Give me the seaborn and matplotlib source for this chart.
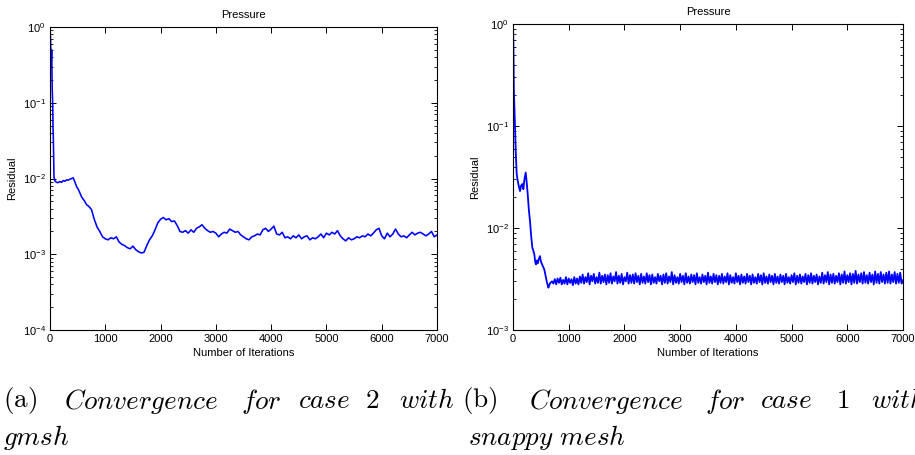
import numpy as np
import pandas as pd
import matplotlib
matplotlib.use("Agg")
import matplotlib.pyplot as plt
import seaborn as sns
from matplotlib.ticker import LogLocator, FixedLocator, NullFormatter

# ---------------------------------------------------------------
# Pressure residual histories (values in units of 1e-3)
# ---------------------------------------------------------------

# (a) case 2, gmsh mesh: start-up transient
gmsh_start_iter = [0, 10, 20, 30, 40, 48, 55, 62, 72, 90, 108, 140, 180, 210,
                   240, 270, 300, 330, 360, 390, 420, 450, 482, 520, 572, 620,
                   663, 700]
gmsh_start_res = [900, 700, 300, 500, 150, 100, 45, 30, 10.5, 9.3, 9.0, 8.8,
                  9.1, 8.9, 9.4, 9.2, 9.6, 9.5, 9.8, 10.0, 10.2, 9.0, 7.8, 7.0,
                  5.7, 5.1, 4.5, 4.3]

# (a) sampled every 50 iterations from 750 to 7000
gmsh_res = [
    3.9, 2.9, 2.3, 2.0, 1.7, 1.6, 1.55, 1.65, 1.6, 1.7,
    1.45, 1.35, 1.3, 1.22, 1.18, 1.28, 1.15, 1.08, 1.04, 1.06,
    1.3, 1.55, 1.75, 2.1, 2.6, 2.9, 3.05, 2.85, 2.95, 2.7,
    2.75, 2.4, 2.0, 1.95, 2.05, 1.9, 2.1, 1.95, 2.2, 2.3,
    2.45, 2.2, 2.05, 1.95, 2.0, 1.9, 1.7, 1.85, 1.95, 1.9,
    2.15, 2.05, 1.95, 2.0, 1.8, 1.7, 1.6, 1.55, 1.7, 1.75,
    1.85, 1.8, 2.1, 2.2, 2.0, 2.15, 2.35, 1.85, 1.8, 1.95,
    1.65, 1.7, 1.6, 1.75, 1.65, 1.8, 1.6, 1.7, 1.75, 1.55,
    1.65, 1.6, 1.7, 1.85, 1.65, 1.9, 1.8, 1.95, 1.85, 2.05,
    1.75, 1.6, 1.5, 1.65, 1.55, 1.6, 1.7, 1.65, 1.75, 1.7,
    1.85, 1.75, 1.9, 2.1, 2.2, 1.75, 1.6, 1.9, 1.7, 1.85,
    2.15, 1.85, 1.7, 1.75, 1.65, 1.8, 1.95, 1.8, 1.9, 1.95,
    1.85, 1.75, 1.85, 2.0, 1.7, 1.8,
]

# (b) case 1, snappy mesh: start-up transient
snappy_start_iter = [0, 8, 15, 25, 36, 50, 66, 80, 96, 110,
                     126, 145, 168, 186, 205, 228, 246, 264, 285, 305,
                     325, 347, 365, 383, 400, 413, 428, 443, 460, 485,
                     500, 515, 540, 563, 585, 605, 620, 635, 650, 670,
                     700]
snappy_start_res = [1000, 600, 230, 150, 91, 55, 34, 30, 27, 25,
                    23, 26, 27, 24, 30, 35, 28, 21.5, 15, 11.7,
                    8.5, 6.4, 6.0, 5.5, 4.6, 4.4, 4.8, 4.5, 4.9, 5.3,
                    4.7, 4.5, 4.2, 3.9, 3.4, 3.0, 2.8, 2.6, 2.75, 2.9,
                    3.0]

# (b) sampled every 25 iterations from 725 to 7000
snappy_res = [
    2.85, 3.15, 2.8, 3.2, 2.9, 3.25, 2.8, 3.1, 2.85, 3.3, 2.8, 3.2, 2.9, 3.15, 2.75, 3.3, 2.85, 3.2, 2.8, 3.35,
    2.9, 3.5, 2.85, 3.3, 2.95, 3.6, 2.8, 3.4, 3.0, 3.55, 2.85, 3.3, 2.9, 3.65, 2.85, 3.4, 2.95, 3.5, 2.8, 3.45,
    2.9, 3.6, 2.85, 3.35, 3.0, 3.7, 2.85, 3.4, 2.9, 3.55, 2.8, 3.3, 3.0, 3.65, 2.85, 3.45, 2.9, 3.5, 2.85, 3.6,
    2.95, 3.4, 2.8, 3.55, 2.9, 3.35, 2.85, 3.6, 2.95, 3.45, 2.8, 3.5, 2.9, 3.3, 2.85, 3.55, 3.0, 3.4, 2.8, 3.5,
    2.9, 3.6, 2.85, 3.35, 2.95, 3.7, 2.8, 3.45, 2.9, 3.3, 2.85, 3.55, 2.95, 3.4, 2.8, 3.6, 2.9, 3.35, 2.85, 3.5,
    2.95, 3.45, 2.8, 3.6, 2.9, 3.3, 2.85, 3.5, 2.95, 3.4, 2.8, 3.65, 2.9, 3.35, 2.85, 3.55, 2.95, 3.45, 2.8, 3.4,
    2.9, 3.55, 2.85, 3.35, 2.95, 3.6, 2.8, 3.45, 2.9, 3.3, 2.85, 3.6, 2.95, 3.4, 2.8, 3.5, 2.9, 3.35, 2.85, 3.55,
    2.95, 3.4, 2.8, 3.5, 2.9, 3.3, 2.85, 3.55, 2.95, 3.45, 2.8, 3.6, 2.9, 3.35, 2.85, 3.5, 2.95, 3.4, 2.8, 3.55,
    2.9, 3.35, 2.85, 3.5, 2.95, 3.4, 2.8, 3.55, 2.9, 3.3, 2.85, 3.45, 2.95, 3.6, 2.8, 3.4, 2.9, 3.5, 2.85, 3.35,
    2.95, 3.55, 2.8, 3.45, 2.9, 3.6, 2.85, 3.4, 2.95, 3.5, 2.8, 3.35, 2.9, 3.65, 2.85, 3.45, 2.95, 3.7, 2.8, 3.5,
    2.9, 3.55, 2.85, 3.4, 2.95, 3.6, 2.8, 3.5, 2.9, 3.75, 2.85, 3.45, 2.95, 3.6, 2.8, 3.55, 2.9, 3.8, 2.85, 3.5,
    2.95, 3.6, 2.85, 3.7, 2.9, 3.45, 2.85, 3.65, 2.95, 3.5, 2.8, 3.75, 2.9, 3.55, 2.85, 3.7, 2.95, 3.5, 2.85, 3.65,
    2.9, 3.75, 2.85, 3.5, 2.95, 3.7, 2.85, 3.55, 2.9, 3.65, 2.85, 3.1,
]

x_ticks = [0, 1000, 2000, 3000, 4000, 5000, 6000, 7000]
title_text = "Pressure"
x_label = "Number of Iterations"
y_label = "Residual"
caption_a = ["(a)", "Convergence", "for", "case", "2", "with"]
caption_a2 = "gmsh"
caption_b = ["(b)", "Convergence", "for", "case", "1", "with"]
caption_b2 = "snappy mesh"


def build_frame(start_iter, start_res, first, step, res):
    it = list(start_iter) + list(first + step * np.arange(len(res)))
    val = np.array(list(start_res) + list(res)) * 1e-3
    return pd.DataFrame({"iteration": it, "residual": val})


gmsh_df = build_frame(gmsh_start_iter, gmsh_start_res, 750, 50, gmsh_res)
snappy_df = build_frame(snappy_start_iter, snappy_start_res, 725, 25, snappy_res)

sns.set_theme(style="white")
plt.rcParams["font.family"] = ["Liberation Sans", "DejaVu Sans"]
plt.rcParams["mathtext.fontset"] = "cm"

W, H = 915, 455
fig = plt.figure(figsize=(W / 100, H / 100), dpi=100)
fig.patch.set_facecolor("white")


def px_axes(x0, y0, x1, y1):
    return fig.add_axes([x0 / W, 1 - y1 / H, (x1 - x0) / W, (y1 - y0) / H])


ax_a = px_axes(50, 27, 437, 330)
ax_b = px_axes(513, 24, 903, 330)


def style_axes(ax, ylo):
    ax.set_yscale("log")
    ax.set_xlim(0, 7000)
    ax.set_ylim(ylo, 1)
    ax.set_facecolor("white")
    for s in ax.spines.values():
        s.set_visible(True)
        s.set_color("black")
        s.set_linewidth(0.8)
    ax.xaxis.set_major_locator(FixedLocator(x_ticks))
    ax.set_xticklabels([str(t) for t in x_ticks])
    ax.yaxis.set_major_locator(LogLocator(base=10, numticks=10))
    ax.yaxis.set_minor_locator(LogLocator(base=10, subs=np.arange(2, 10), numticks=20))
    ax.yaxis.set_minor_formatter(NullFormatter())
    ax.tick_params(axis="both", which="major", direction="in", length=4,
                   width=0.7, color="black", labelsize=8, labelcolor="black",
                   top=True, right=True, bottom=True, left=True, pad=3)
    ax.tick_params(axis="y", which="minor", direction="in", length=2.5,
                   width=0.6, color="black", left=True, right=True)
    ax.set_title(title_text, fontsize=8, color="black", pad=6.5)
    ax.set_xlabel(x_label, fontsize=8, color="black", labelpad=3)
    ax.set_ylabel(y_label, fontsize=8, color="black", labelpad=4)
    ax.grid(False)


for ax, df, ylo, lw in [(ax_a, gmsh_df, 1e-4, 1.15), (ax_b, snappy_df, 1e-3, 1.3)]:
    sns.lineplot(data=df, x="iteration", y="residual", ax=ax, color="#0000ff",
                 linewidth=lw, estimator=None, sort=False, legend=False)
    style_axes(ax, ylo)

# Sub-figure captions, justified across each column
cap_size = 19.5
line1_y = 1 - 401 / H
line2_y = 1 - 437 / H
xa = [3, 64, 241, 298, 365, 399]
xb = [462, 529, 705, 760, 836, 871]


def cap_word(x, y, word):
    s = r"$\mathit{" + word.replace(" ", r"\ ") + "}$"
    fig.text(x / W, y, s, fontsize=cap_size, color="black", ha="left", va="center")


for xs, words in [(xa, caption_a), (xb, caption_b)]:
    for i, (x, w) in enumerate(zip(xs, words)):
        if i == 0:
            fig.text(x / W, line1_y, "$\\mathrm{" + w + "}$", fontsize=cap_size,
                     color="black", ha="left", va="center")
        else:
            cap_word(x, line1_y, w)

cap_word(3, line2_y, caption_a2)
cap_word(468, line2_y, caption_b2)

fig.savefig("out.png", dpi=100, facecolor="white")
